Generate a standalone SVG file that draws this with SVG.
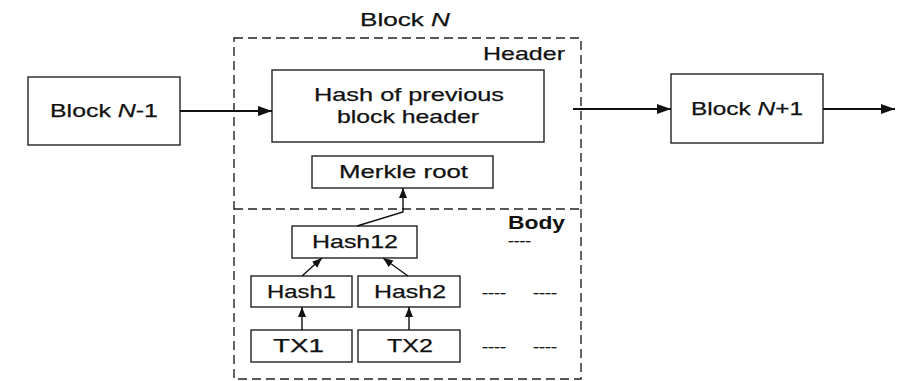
<svg xmlns="http://www.w3.org/2000/svg" width="900" height="381" viewBox="0 0 900 381">
  <style>
    .box { fill: #ffffff; stroke: #222222; stroke-width: 1.4; }
    .dash { fill: none; stroke: #222222; stroke-width: 1.4; stroke-dasharray: 9 5; }
    .t { font-family: "Liberation Sans", Arial, sans-serif; font-size: 19px; fill: #111111; stroke: #111111; stroke-width: 0.25; }
    .tb { font-family: "Liberation Sans", Arial, sans-serif; font-size: 19px; font-weight: bold; fill: #111111; }
    .d { font-family: "Liberation Sans", Arial, sans-serif; font-size: 12px; fill: #111111; stroke: #111111; stroke-width: 0.3; }
    .big { fill: none; stroke: #111111; stroke-width: 2; }
    .small { fill: none; stroke: #111111; stroke-width: 1.4; }
  </style>
  <defs>
    <marker id="ah" markerUnits="userSpaceOnUse" markerWidth="15" markerHeight="12" refX="14" refY="6" orient="auto">
      <path d="M0,1 L14,6 L0,11 z" fill="#111111"/>
    </marker>
    <marker id="as" markerUnits="userSpaceOnUse" markerWidth="11" markerHeight="10" refX="10" refY="5" orient="auto">
      <path d="M0,1 L10,5 L0,9 z" fill="#111111"/>
    </marker>
  </defs>

  <rect width="900" height="381" fill="#ffffff"/>

  <!-- Block N container: header and body halves -->
  <g id="block-n">
    <text class="t" x="360" y="26" textLength="90" lengthAdjust="spacingAndGlyphs">Block <tspan font-style="italic">N</tspan></text>
    <rect class="dash" x="234" y="38" width="347" height="341"/>
    <line class="dash" x1="234" y1="209" x2="581" y2="209"/>
    <text class="t" x="483" y="60" textLength="82" lengthAdjust="spacingAndGlyphs">Header</text>
    <text class="tb" x="508" y="229" textLength="57" lengthAdjust="spacingAndGlyphs">Body</text>
    <text class="d" x="508" y="245" font-size="8" textLength="23" lengthAdjust="spacingAndGlyphs">----</text>
  </g>

  <g id="block-n-1">
    <rect class="box" x="28" y="77" width="152" height="68"/>
    <text class="t" x="50" y="117" textLength="108" lengthAdjust="spacingAndGlyphs">Block <tspan font-style="italic">N</tspan>-1</text>
  </g>

  <g id="block-n+1">
    <rect class="box" x="671" y="74" width="152" height="69"/>
    <text class="t" x="691" y="115" textLength="112" lengthAdjust="spacingAndGlyphs">Block <tspan font-style="italic">N</tspan>+1</text>
  </g>

  <g id="prev-hash">
    <rect class="box" x="272" y="70" width="272" height="72"/>
    <text class="t" x="314" y="101" textLength="190" lengthAdjust="spacingAndGlyphs">Hash of previous</text>
    <text class="t" x="337" y="123" textLength="142" lengthAdjust="spacingAndGlyphs">block header</text>
  </g>

  <g id="merkle-root">
    <rect class="box" x="312" y="156" width="181" height="32"/>
    <text class="t" x="339" y="178" textLength="129" lengthAdjust="spacingAndGlyphs">Merkle root</text>
  </g>

  <g id="hash12">
    <rect class="box" x="292" y="226" width="125" height="32"/>
    <text class="t" x="312" y="248" textLength="86" lengthAdjust="spacingAndGlyphs">Hash12</text>
  </g>

  <g id="hash1">
    <rect class="box" x="251" y="276" width="101" height="31"/>
    <text class="t" x="267" y="298" textLength="69" lengthAdjust="spacingAndGlyphs">Hash1</text>
  </g>

  <g id="hash2">
    <rect class="box" x="358" y="276" width="102" height="31"/>
    <text class="t" x="374" y="298" textLength="72" lengthAdjust="spacingAndGlyphs">Hash2</text>
  </g>

  <g id="tx1">
    <rect class="box" x="251" y="330" width="101" height="32"/>
    <text class="t" x="273" y="352" textLength="51" lengthAdjust="spacingAndGlyphs">TX1</text>
  </g>

  <g id="tx2">
    <rect class="box" x="358" y="330" width="102" height="32"/>
    <text class="t" x="387" y="352" textLength="46" lengthAdjust="spacingAndGlyphs">TX2</text>
  </g>

  <g id="ellipsis">
    <text class="d" x="482" y="297" textLength="24" lengthAdjust="spacingAndGlyphs">----</text>
    <text class="d" x="533" y="297" textLength="24" lengthAdjust="spacingAndGlyphs">----</text>
    <text class="d" x="482" y="351" textLength="24" lengthAdjust="spacingAndGlyphs">----</text>
    <text class="d" x="533" y="351" textLength="24" lengthAdjust="spacingAndGlyphs">----</text>
  </g>

  <g id="connectors">
    <line class="big" x1="180" y1="111" x2="272" y2="111" marker-end="url(#ah)"/>
    <line class="big" x1="573" y1="109" x2="671" y2="109" marker-end="url(#ah)"/>
    <line class="big" x1="823" y1="109" x2="895" y2="109" marker-end="url(#ah)"/>
    <polyline class="small" points="357,226 403,212 403,188" marker-end="url(#as)"/>
    <line class="small" x1="302" y1="276" x2="322" y2="258" marker-end="url(#as)"/>
    <line class="small" x1="408" y1="276" x2="383" y2="258" marker-end="url(#as)"/>
    <line class="small" x1="302" y1="330" x2="302" y2="307" marker-end="url(#as)"/>
    <line class="small" x1="409" y1="330" x2="409" y2="307" marker-end="url(#as)"/>
  </g>
</svg>
